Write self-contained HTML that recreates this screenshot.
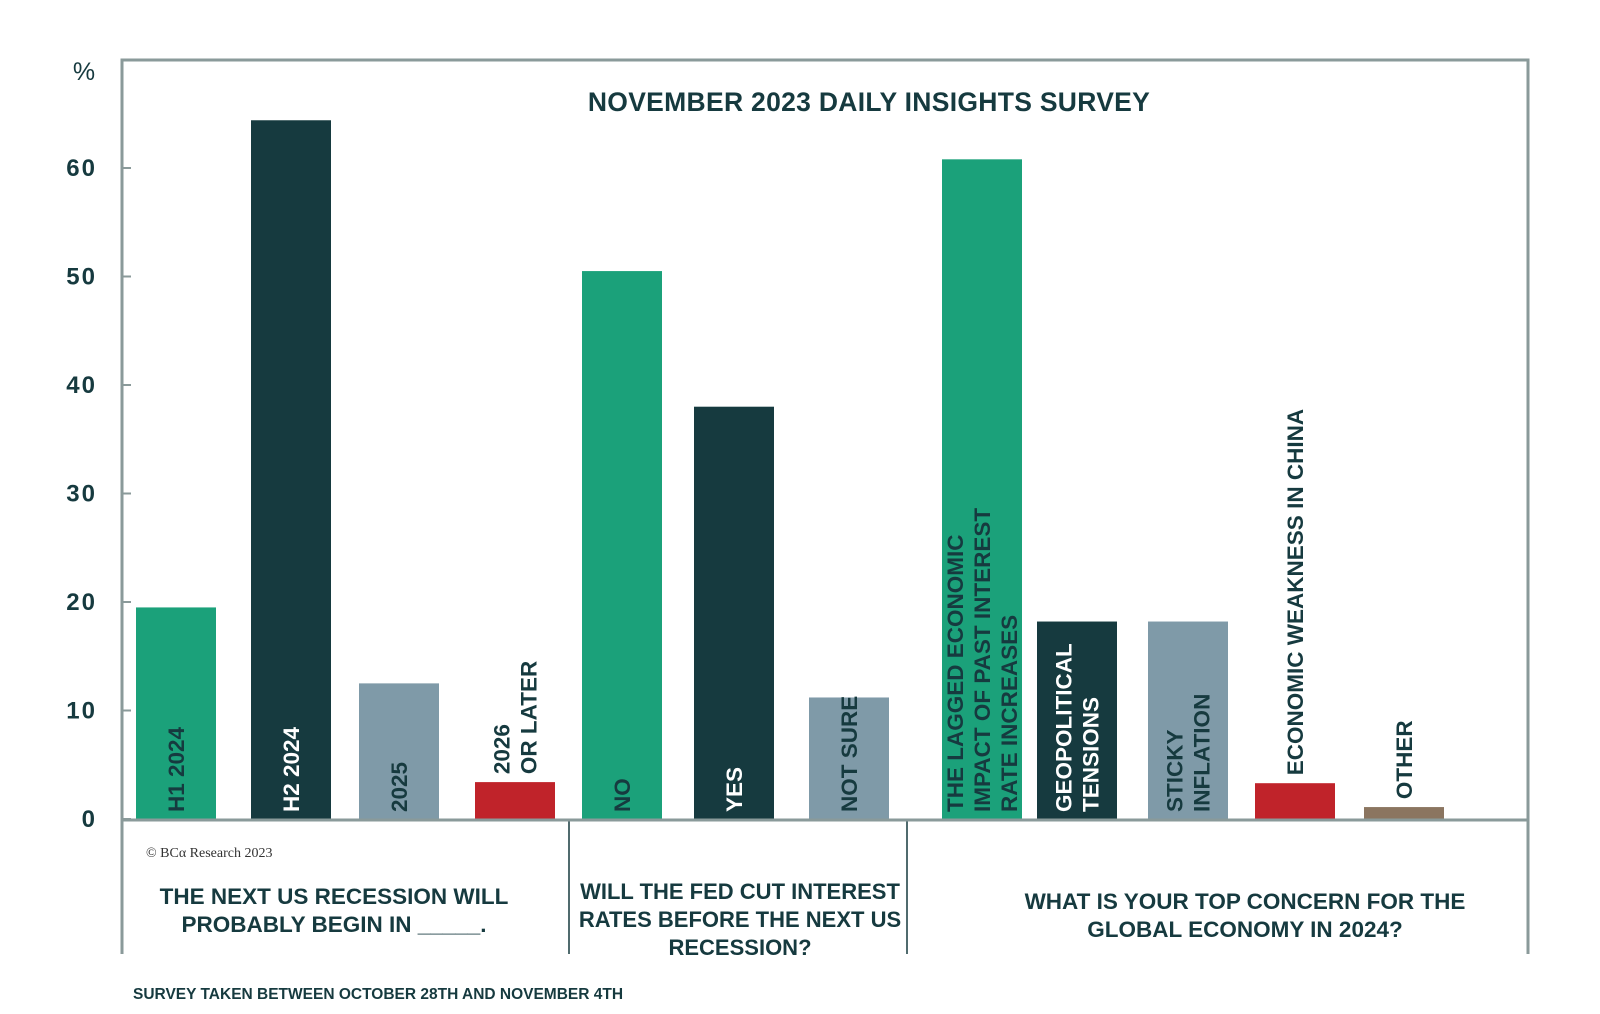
<!DOCTYPE html>
<html><head><meta charset="utf-8"><style>
html,body{margin:0;padding:0;background:#fff;}
svg{display:block;}
</style></head><body>
<svg id="chart" width="1600" height="1014" xmlns="http://www.w3.org/2000/svg" font-family="'Liberation Sans', sans-serif">
<rect x="0" y="0" width="1600" height="1014" fill="#fff"/>
<polyline points="122,954 122,60 1528,60 1528,954" fill="none" stroke="#8a9a9a" stroke-width="3"/>
<line x1="569" y1="819" x2="569" y2="954" stroke="#163a3f" stroke-width="1.5"/>
<line x1="907" y1="819" x2="907" y2="954" stroke="#163a3f" stroke-width="1.5"/>
<text x="84" y="80" font-size="25" fill="#163a3f" text-anchor="middle">%</text>
<text x="869" y="111" font-size="26.5" font-weight="bold" fill="#163a3f" text-anchor="middle" letter-spacing="0.3">NOVEMBER 2023 DAILY INSIGHTS SURVEY</text>
<g id="ticks"></g>
<g id="bars"></g>
<line x1="122" y1="820" x2="1528" y2="820" stroke="#8a9a9a" stroke-width="3"/>
<text x="146" y="857" font-family="'Liberation Serif', serif" font-size="14" fill="#333">© BCα Research 2023</text>
<g font-size="22.5" font-weight="bold" fill="#163a3f" text-anchor="middle">
<text x="334" y="904">THE NEXT US RECESSION WILL</text>
<text x="334" y="932">PROBABLY BEGIN IN _____.</text>
</g>
<g font-size="22" font-weight="bold" fill="#163a3f" text-anchor="middle">
<text x="740" y="899">WILL THE FED CUT INTEREST</text>
<text x="740" y="927">RATES BEFORE THE NEXT US</text>
<text x="740" y="955">RECESSION?</text>
</g>
<g font-size="22.5" font-weight="bold" fill="#163a3f" text-anchor="middle">
<text x="1245" y="909">WHAT IS YOUR TOP CONCERN FOR THE</text>
<text x="1245" y="937">GLOBAL ECONOMY IN 2024?</text>
</g>
<text x="133" y="999" font-size="15.5" font-weight="bold" fill="#163a3f">SURVEY TAKEN BETWEEN OCTOBER 28TH AND NOVEMBER 4TH</text>
</svg>
<script>
const categories = [["H1 2024"],["H2 2024"],["2025"],["2026","OR LATER"],["NO"],["YES"],["NOT SURE"],["THE LAGGED ECONOMIC","IMPACT OF PAST INTEREST","RATE INCREASES"],["GEOPOLITICAL","TENSIONS"],["STICKY","INFLATION"],["ECONOMIC WEAKNESS IN CHINA"],["OTHER"]];
const values = [19.5, 64.4, 12.5, 3.4, 50.5, 38, 11.2, 60.8, 18.2, 18.2, 3.3, 1.1];
const barColors = ["#1ba17a","#163a3f","#7f9aa8","#c0232a","#1ba17a","#163a3f","#7f9aa8","#1ba17a","#163a3f","#7f9aa8","#c0232a","#8b7560"];
const barLefts = [136,251,359,475,582,694,809,942,1037,1148,1255,1364];
const tickValues = [0,10,20,30,40,50,60];
const NS="http://www.w3.org/2000/svg";
const y0=819, pxPer=10.85, barW=80;
function yScale(v){return y0 - v*pxPer;}
const tg=document.getElementById('ticks');
tickValues.forEach(t=>{
  const tx=document.createElementNS(NS,'text');
  
  
  tx.setAttribute('x',97);tx.setAttribute('y',yScale(t)+8);
  tx.setAttribute('text-anchor','end');tx.setAttribute('font-size','24');
  tx.setAttribute('font-weight','bold');tx.setAttribute('fill','#163a3f');
  tx.setAttribute('letter-spacing','2');
  tx.textContent=t;tg.appendChild(tx);
  const ln=document.createElementNS(NS,'line');
  
  
  ln.setAttribute('x1',122);ln.setAttribute('x2',131);
  ln.setAttribute('y1',yScale(t));ln.setAttribute('y2',yScale(t));
  ln.setAttribute('stroke','#8a9a9a');ln.setAttribute('stroke-width','2');
  tg.appendChild(ln);
});
const bg=document.getElementById('bars');
values.forEach((v,i)=>{
  const r=document.createElementNS(NS,'rect');
  
  
  r.setAttribute('x',barLefts[i]);r.setAttribute('y',yScale(v));
  r.setAttribute('width',barW);r.setAttribute('height',y0-yScale(v));
  r.setAttribute('fill',barColors[i]);bg.appendChild(r);
  const lines=categories[i];
  const cx=barLefts[i]+barW/2;
  const lh=27;
  const col=(barColors[i]==="#163a3f")?"#ffffff":"#163a3f";
  lines.forEach((s,j)=>{
    const t=document.createElementNS(NS,'text');
    
    
    const x=cx-(lines.length-1)*lh/2+j*lh+8;
    const inside = v>25 || lines.length===1 && v>8 || (i===8||i===9);
    const yb = (i===3||i===10||i===11) ? yScale(v)-8 : 812;
    t.setAttribute('x',x);t.setAttribute('y',yb);
    t.setAttribute('transform','rotate(-90 '+x+' '+yb+')');
    t.setAttribute('font-size','22.5');
    t.setAttribute('font-weight','bold');
    t.setAttribute('fill', inside?col:'#163a3f');
    t.textContent=s;bg.appendChild(t);
  });
});
</script>
</body></html>
